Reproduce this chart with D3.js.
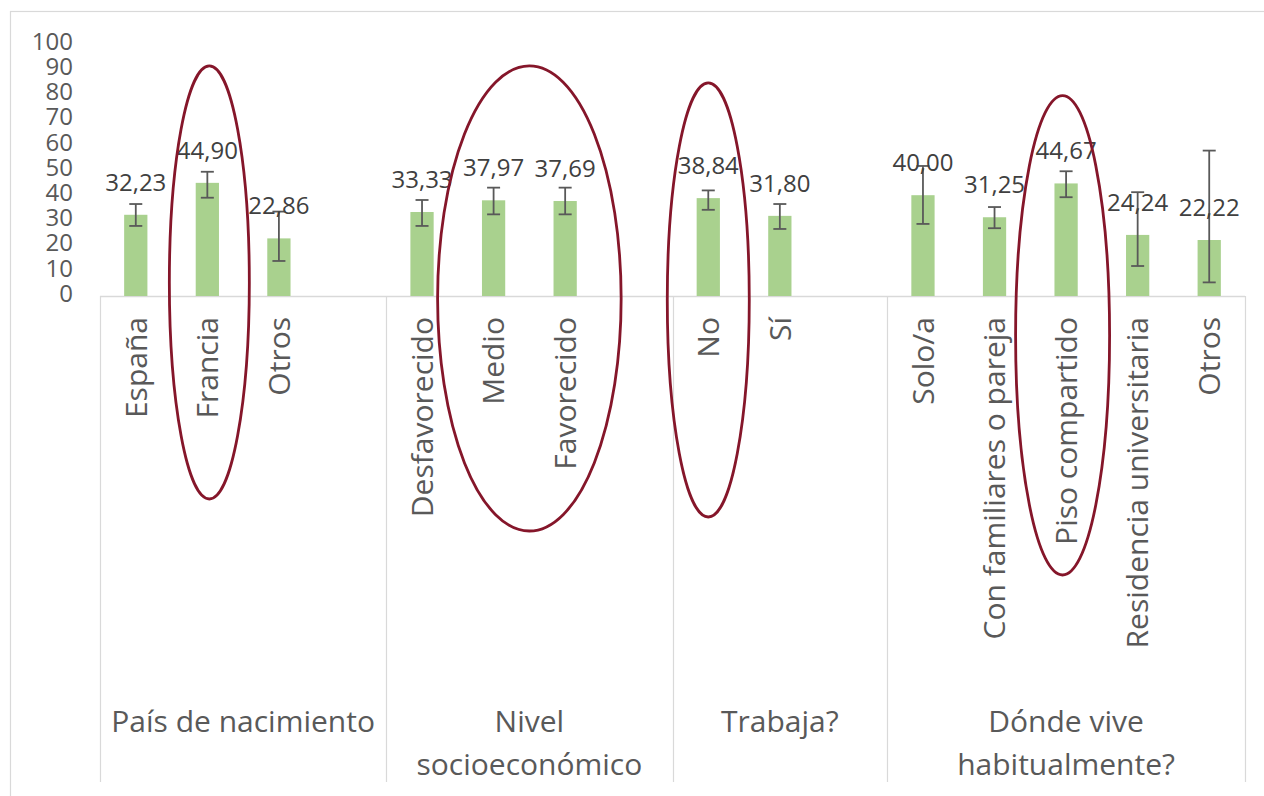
<!DOCTYPE html>
<html>
<head>
<meta charset="utf-8">
<script src="https://cdn.jsdelivr.net/npm/d3@7"></script>
<style>
  html, body { margin: 0; padding: 0; background: #fff; }
  svg { display: block; }
  text { font-family: "Open Sans", "Noto Sans", sans-serif; }
</style>
</head>
<body>
<svg id="chart" width="1264" height="796"></svg>
<script>
// ---- data ----
const groupLabels = [["País de nacimiento"], ["Nivel", "socioeconómico"], ["Trabaja?"], ["Dónde vive", "habitualmente?"]];
const categories = ["España", "Francia", "Otros", "Desfavorecido", "Medio", "Favorecido", "No", "Sí",
  "Solo/a", "Con familiares o pareja", "Piso compartido", "Residencia universitaria", "Otros"];
const categoryGroup = [0, 0, 0, 1, 1, 1, 2, 2, 3, 3, 3, 3, 3];
const values = [32.23, 44.90, 22.86, 33.33, 37.97, 37.69, 38.84, 31.80, 40.00, 31.25, 44.67, 24.24, 22.22];
const errLow = [27.8, 39.0, 13.9, 27.8, 32.4, 32.4, 34.2, 26.6, 28.6, 26.9, 39.2, 11.9, 5.4];
const errHigh = [36.5, 49.3, 33.5, 38.1, 43.0, 43.0, 41.9, 36.5, 51.6, 35.3, 49.5, 41.2, 57.7];
const yTicks = [0, 10, 20, 30, 40, 50, 60, 70, 80, 90, 100];
const highlighted = [[1], [4, 5], [6], [10]];

// ---- layout ----
const svg = d3.select("#chart");
const plotLeft = 100, plotRight = 1245, plotTop = 44, plotBase = 296, axisBottom = 782;

// slot domain: categories with one blank slot after every group except the last
const slotKeys = [];
const groupLastSlot = [];
groupLabels.forEach((g, gi) => {
  categories.forEach((c, i) => { if (categoryGroup[i] === gi) slotKeys.push("c" + i); });
  if (gi < groupLabels.length - 1) slotKeys.push("gap" + gi);
  groupLastSlot.push(slotKeys[slotKeys.length - 1]);
});

const x = d3.scaleBand().domain(slotKeys).range([plotLeft, plotRight]).padding(0);
const y = d3.scaleLinear().domain([0, 100]).range([plotBase, plotTop]);
const bw = x.bandwidth();
const barW = bw * 0.325;
const cx = i => x("c" + i) + bw / 2;

const fmt = v => d3.format(".2f")(v).replace(".", ",");

// outer border
svg.append("rect").attr("x", 10.5).attr("y", 11.5).attr("width", 1262).attr("height", 800)
  .attr("fill", "none").attr("stroke", "#d9d9d9").attr("stroke-width", 1.2);

// y tick labels (no axis line)
const yAxis = d3.axisLeft(y).tickValues(yTicks).tickSize(0).tickPadding(0);
const yg = svg.append("g").attr("transform", "translate(73,0)").call(yAxis);
yg.select(".domain").remove();
yg.selectAll("text").attr("font-size", 24).attr("fill", "#595959")
  .attr("font-family", "'Open Sans', sans-serif").attr("dy", "0.22em");

// category axis lines
const axisColor = "#d9d9d9";
svg.append("line").attr("x1", plotLeft).attr("x2", plotRight).attr("y1", plotBase + 0.5).attr("y2", plotBase + 0.5)
  .attr("stroke", axisColor).attr("stroke-width", 1.5);
const boundaries = [plotLeft].concat(groupLastSlot.map(k => x(k) + bw));
svg.selectAll(".sep").data(boundaries).join("line").attr("class", "sep")
  .attr("x1", d => Math.round(d) + 0.5).attr("x2", d => Math.round(d) + 0.5)
  .attr("y1", plotBase).attr("y2", axisBottom)
  .attr("stroke", axisColor).attr("stroke-width", 1.2);

// bars
svg.selectAll(".bar").data(values).join("rect").attr("class", "bar")
  .attr("x", (d, i) => cx(i) - barW / 2).attr("width", barW)
  .attr("y", d => y(d)).attr("height", d => y(0) - y(d))
  .attr("fill", "#a9d18e");

// error bars
const eb = svg.append("g").attr("stroke", "#595959").attr("stroke-width", 1.8);
values.forEach((v, i) => {
  const c = cx(i);
  eb.append("line").attr("x1", c).attr("x2", c).attr("y1", y(errHigh[i])).attr("y2", y(errLow[i]));
  eb.append("line").attr("x1", c - 6.5).attr("x2", c + 6.5).attr("y1", y(errHigh[i])).attr("y2", y(errHigh[i]));
  eb.append("line").attr("x1", c - 6.5).attr("x2", c + 6.5).attr("y1", y(errLow[i])).attr("y2", y(errLow[i]));
});

// value labels
svg.selectAll(".val").data(values).join("text").attr("class", "val")
  .attr("x", (d, i) => cx(i)).attr("y", d => y(d) - 24)
  .attr("text-anchor", "middle").attr("font-size", 24).attr("fill", "#404040")
  .text(d => fmt(d));

// rotated category labels
svg.selectAll(".cat").data(categories).join("text").attr("class", "cat")
  .attr("transform", (d, i) => `translate(${cx(i)},317) rotate(-90)`)
  .attr("text-anchor", "end").attr("dy", "0.36em")
  .attr("font-size", 30).attr("fill", "#595959")
  .text(d => d);

// group labels
groupLabels.forEach((lines, gi) => {
  const x0 = boundaries[gi], x1 = boundaries[gi + 1];
  const t = svg.append("text").attr("text-anchor", "middle")
    .attr("font-size", 30).attr("fill", "#595959");
  lines.forEach((ln, li) => {
    t.append("tspan").attr("x", (x0 + x1) / 2).attr("y", 732 + li * 43).text(ln);
  });
});

// highlight ellipses (annotation)
const ellTop = [91.3, 91.3, 84.6, 79.5];
const ellBottom = [499, 531, 517, 575];
const ellPad = [40, 56, 41, 47];
const ellShift = [2, 0, 0, -3.5];
highlighted.forEach((idx, k) => {
  const xa = cx(idx[0]) - ellPad[k] + ellShift[k];
  const xb = cx(idx[idx.length - 1]) + ellPad[k] + ellShift[k];
  const yt = y(ellTop[k]), yb = ellBottom[k];
  svg.append("ellipse")
    .attr("cx", (xa + xb) / 2).attr("cy", (yt + yb) / 2)
    .attr("rx", (xb - xa) / 2).attr("ry", (yb - yt) / 2)
    .attr("fill", "none").attr("stroke", "#85162a").attr("stroke-width", 2.8);
});
</script>
</body>
</html>
